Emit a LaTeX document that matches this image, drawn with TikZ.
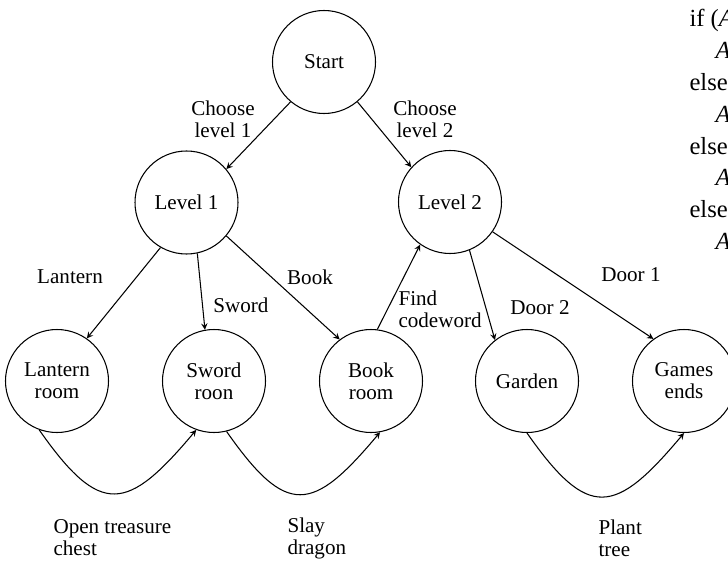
\documentclass[tikz,border=0pt]{standalone}
\usepackage{fontspec}
\setmainfont{Liberation Serif}

\tikzset{
  >={stealth},   % 全局箭头样式
  room/.style={draw, circle, minimum size=2.06cm, inner sep=0pt, align=center},
  lbl/.style={align=center, inner sep=0pt},
  lblleft/.style={align=left, inner sep=0pt, anchor=west}
}

\begin{document}
\begin{tikzpicture}[line width=0.6pt, font=\fontsize{12}{12.5}\selectfont]

\useasboundingbox (0,0) rectangle (14.56,11.22);

%==================== 状态（圆） ====================
\node[room] (start)   at (6.48,9.98) {Start};
\node[room] (level1)  at (3.73,7.17) {Level 1};
\node[room] (level2)  at (9.00,7.18) {Level 2};

\node[room] (lantern) at (1.14,3.60) {Lantern\\room};
\node[room] (sword)   at (4.28,3.60) {Sword\\roon};
\node[room] (book)    at (7.42,3.60) {Book\\room};
\node[room] (garden)  at (10.54,3.60) {Garden};
\node[room] (games)   at (13.68,3.60) {Games\\ends};

%==================== 转移（直线） ====================
\draw[->] (start.230) -- (level1.40);
\draw[->] (start.310) -- (level2.138);

\draw[->] (level1.240) -- (lantern.55);
\draw[->] (level1.282) -- (sword.100);
\draw[->] (level1.320) -- (book.127);

\draw[->] (book.83) -- (level2.235);
\draw[->] (level2.292) -- (garden.128);
\draw[->] (level2.325) -- (games.126);

%==================== 转移（下方曲线） ====================
\draw[->] (lantern.250) to[out=-55, in=-130, looseness=1.75] (sword.250);
\draw[->] (sword.284) to[out=-55, in=-130, looseness=1.75] (book.280);
\draw[->] (garden.270) to[out=-55, in=-130, looseness=1.75] (games.270);

%==================== 标签 ====================
\node[lbl] (chooseone) at (4.46,8.84) {Choose\\level 1};
\node[lbl] (choosetwo) at (8.50,8.84) {Choose\\level 2};

\node[lbl] (lanternlbl) at (1.40,5.68) {Lantern};
\node[lbl] (swordlbl)   at (4.82,5.12) {Sword};
\node[lbl] (booklbl)    at (6.20,5.68) {Book};

\node[lblleft] (findlbl) at (7.96,5.04) {Find\\codeword};
\node[lbl] (doortwo) at (10.80,5.06) {Door 2};
\node[lbl] (doorone) at (12.62,5.72) {Door 1};

\node[lblleft] (chestlbl)  at (1.06,0.46) {Open treasure\\chest};
\node[lblleft] (dragonlbl) at (5.74,0.46) {Slay\\dragon};
\node[lblleft] (treelbl)   at (11.96,0.46) {Plant\\tree};

% 右上角的代码（被裁切）
\node[anchor=north west, align=left, inner sep=0pt,
      font=\fontsize{14}{18.1}\selectfont] (code) at (13.78,11.04)
  {if (\textit{A}\\
   \hspace*{0.52cm}\textit{A}\\
   else\\
   \hspace*{0.52cm}\textit{A}\\
   else\\
   \hspace*{0.52cm}\textit{A}\\
   else\\
   \hspace*{0.52cm}\textit{A}};

\end{tikzpicture}
\end{document}
